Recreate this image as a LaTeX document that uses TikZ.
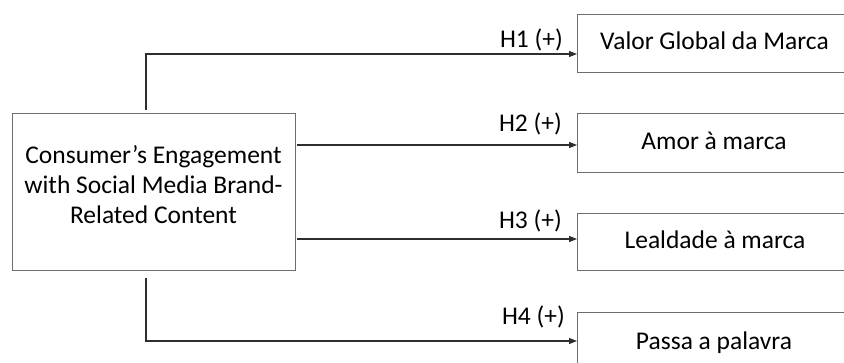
\documentclass[tikz,border=0pt]{standalone}
\usepackage{fontspec}
\setmainfont{Carlito}
\usetikzlibrary{arrows.meta}
\definecolor{boxgray}{HTML}{6E6E6E}
\definecolor{linegray}{HTML}{2E2E2E}
\tikzset{
  conbox/.style={draw=boxgray, line width=1.2pt, rectangle, inner sep=0pt},
  conn/.style={draw=linegray, line width=1.1pt},
  arr/.style={conn, -{Triangle[length=8pt,width=6pt]}},
  hyp/.style={anchor=base east, inner sep=0pt, font=\fontsize{25.5}{30}\selectfont},
  lbl/.style={font=\fontsize{25.5}{30}\selectfont, inner sep=0pt, anchor=base},
}
\begin{document}
\begin{tikzpicture}[x=1pt,y=-1pt]
\useasboundingbox (0,0) rectangle (844,363);
\clip (0,0) rectangle (844,363);
% source box
\node[conbox, minimum width=283pt, minimum height=157pt, anchor=north west] (src) at (12,113) {};
\node[font=\fontsize{25.5}{30}\selectfont, inner sep=0pt, align=center, anchor=north] (srct) at (153.5,145) {Consumer’s Engagement\\with Social Media Brand-\\Related Content};
% target boxes
\node[conbox, minimum width=280pt, minimum height=58pt, anchor=north west] (b1) at (577,14) {};
\node[conbox, minimum width=280pt, minimum height=59pt, anchor=north west] (b2) at (577,113) {};
\node[conbox, minimum width=280pt, minimum height=57pt, anchor=north west] (b3) at (577,213) {};
\node[conbox, minimum width=280pt, minimum height=70pt, anchor=north west] (b4) at (577,312) {};
\node[lbl] (t1) at (714.5,50) {Valor Global da Marca};
\node[lbl] (t2) at (714,150) {Amor à marca};
\node[lbl] (t3) at (715,249) {Lealdade à marca};
\node[lbl] (t4) at (714,350) {Passa a palavra};
% connector corners
\coordinate (c1) at (146,54);
\coordinate (c4) at (146,341);
\coordinate (s1) at (146,110);
\coordinate (s4) at (146,278);
\coordinate (s2) at (297,145);
\coordinate (s3) at (297,239);
\draw[arr] (s1) -- (c1) -- (b1.west |- c1);
\draw[arr] (s2) -- (b2.west |- s2);
\draw[arr] (s3) -- (b3.west |- s3);
\draw[arr] (s4) -- (c4) -- (b4.west |- c4);
% labels
\node[hyp] (h1) at (563,48) {H1 (+)};
\node[hyp] (h2) at (562,132) {H2 (+)};
\node[hyp] (h3) at (562,229) {H3 (+)};
\node[hyp] (h4) at (565,325) {H4 (+)};
\end{tikzpicture}
\end{document}
